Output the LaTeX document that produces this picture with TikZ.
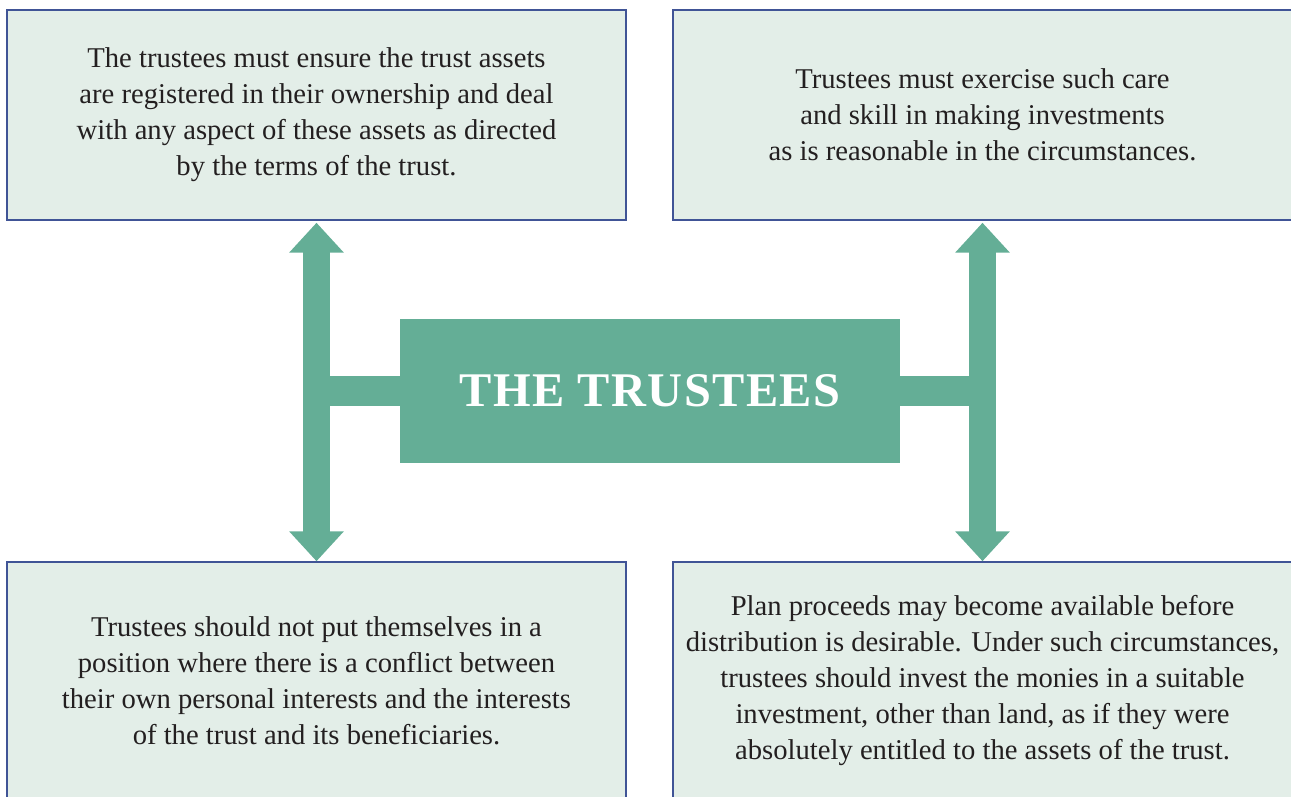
\documentclass[tikz,border=0pt]{standalone}
\usepackage{fontspec}
\setmainfont{Liberation Serif}
\usetikzlibrary{arrows.meta}
\definecolor{trustgreen}{RGB}{100,174,150}
\definecolor{boxfill}{RGB}{227,238,232}
\definecolor{boxline}{RGB}{64,84,150}
\definecolor{inktext}{RGB}{35,31,32}
\tikzset{
  dutybox/.style={draw=boxline, line width=0.85pt, fill=boxfill, text=inktext,
    align=center, inner sep=0pt, minimum width=12.38cm,
    font=\fontsize{16.3}{20.5}\selectfont},
  hubbox/.style={fill=trustgreen, text=white, inner sep=0pt,
    minimum width=10cm, minimum height=2.88cm,
    font=\fontsize{27.5}{30}\selectfont\bfseries\addfontfeatures{LetterSpace=3}},
  bigarrow/.style={trustgreen, line width=0.54cm,
    {Triangle[width=1.06cm,length=0.6cm]}-{Triangle[width=1.06cm,length=0.6cm]}},
  crossbar/.style={trustgreen, line width=0.6cm}
}

\begin{document}
\begin{tikzpicture}
            \useasboundingbox (0,0) rectangle (25.82,-15.94);
            \clip (0,0) rectangle (25.82,-15.94);

            % duty boxes
            \node[dutybox, minimum height=4.2cm] (assets) at (6.33,-2.3) {The trustees must ensure the trust assets\\are registered in their ownership and deal\\with any aspect of these assets as directed\\by the terms of the trust.};
            \node[dutybox, minimum height=4.2cm] (care) at (19.65,-2.3) {Trustees must exercise such care\\and skill in making investments\\as is reasonable in the circumstances.};
            \node[dutybox, minimum height=4.74cm] (conflict) at (6.33,-13.61) {Trustees should not put themselves in a\\position where there is a conflict between\\their own personal interests and the interests\\of the trust and its beneficiaries.};
            \node[dutybox, minimum height=4.74cm] (proceeds) at (19.65,-13.61) {Plan proceeds may become available before\\distribution is desirable. Under such circumstances,\\trustees should invest the monies in a suitable\\investment, other than land, as if they were\\absolutely entitled to the assets of the trust.};

            % centre
            \node[hubbox] (trustees) at (13,-7.82) {THE TRUSTEES};

            % bars to the arrows
            \draw[crossbar] (trustees.west) -- (trustees.west -| assets.south);
            \draw[crossbar] (trustees.east) -- (trustees.east -| care.south);

            % double arrows
            \draw[bigarrow, shorten <=0.04cm] (assets.south) -- (conflict.north);
            \draw[bigarrow, shorten <=0.04cm] (care.south) -- (proceeds.north);
\end{tikzpicture}
\end{document}
